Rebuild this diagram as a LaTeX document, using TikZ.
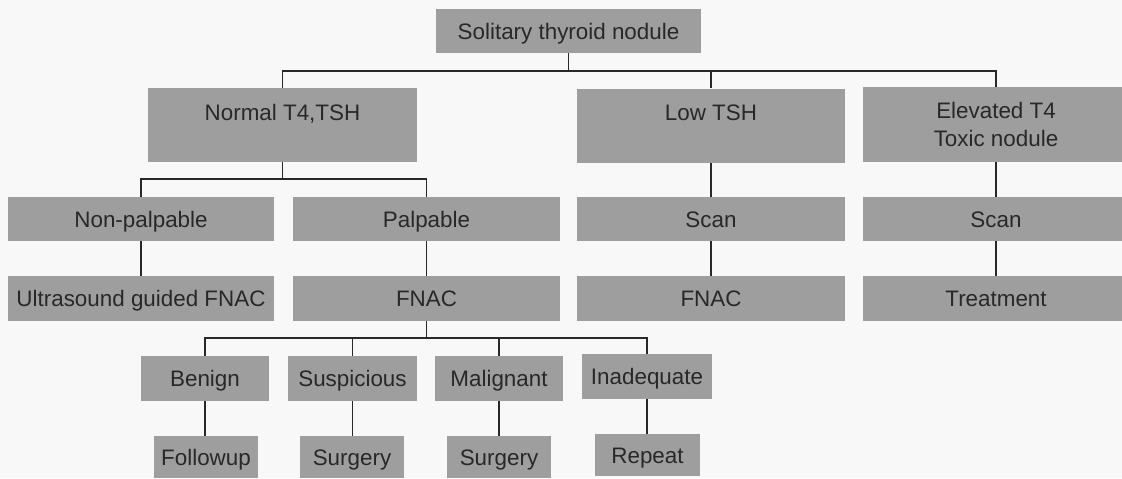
\documentclass[tikz,border=0pt]{standalone}
\usepackage{fontspec}
\setmainfont{Liberation Sans}
\definecolor{boxgray}{RGB}{158,158,158}
\definecolor{inkgray}{RGB}{40,40,40}
\definecolor{paper}{RGB}{248,248,248}
\newcommand{\boxfont}{\fontsize{11.2}{14}\selectfont}
\tikzset{
    box/.style={fill=boxgray, text=inkgray, font=\boxfont, inner sep=0pt,
        text height=8pt, text depth=0pt, minimum height=22pt},
    tallbox/.style={box, align=center, text height=16pt, text depth=21pt},
    link/.style={draw=inkgray, line width=0.85pt},
}
\begin{document}
\begin{tikzpicture}[x=0.5pt, y=-0.5pt]
    \fill[paper] (0,0) rectangle (1122,478);
    \useasboundingbox (0,0) rectangle (1122,478);
    % first level
    \node[box, minimum width=132.5pt] (solitary) at (568.5,31) {Solitary thyroid nodule};
    \node[tallbox, minimum width=134.5pt] (normal) at (282.5,125) {Normal T4,TSH};
    \node[tallbox, minimum width=134pt] (low) at (711,125.5) {Low TSH};
    \node[tallbox, minimum width=133pt, text height=29.5pt, text depth=8pt] (elevated) at (996,124.5) {Elevated T4\\Toxic nodule};
    % second level
    \node[box, minimum width=133pt] (nonpalp) at (141,219) {Non-palpable};
    \node[box, minimum width=133.5pt] (palp) at (426.5,219) {Palpable};
    \node[box, minimum width=134pt] (scanlow) at (711,219) {Scan};
    \node[box, minimum width=133pt] (scanelev) at (996,219) {Scan};
    % third level
    \node[box, minimum width=133pt, minimum height=22.5pt] (ultrasound) at (141,298.5) {Ultrasound guided FNAC};
    \node[box, minimum width=133.5pt, minimum height=22.5pt] (fnac) at (426.5,298.5) {FNAC};
    \node[box, minimum width=134pt, minimum height=22.5pt] (fnaclow) at (711,298.5) {FNAC};
    \node[box, minimum width=133pt, minimum height=22.5pt] (treatment) at (996,298.5) {Treatment};
    % cytology results
    \node[box, minimum width=64pt, minimum height=22.5pt] (benign) at (205,378.5) {Benign};
    \node[box, minimum width=64.5pt, minimum height=22.5pt] (suspicious) at (352.5,378.5) {Suspicious};
    \node[box, minimum width=64pt, minimum height=22.5pt] (malignant) at (499,378.5) {Malignant};
    \node[box, minimum width=65pt, minimum height=22.5pt] (inadequate) at (647,376.5) {Inadequate};
    % management
    \node[box, minimum width=52pt, minimum height=21pt] (followup) at (206,457) {Followup};
    \node[box, minimum width=52pt, minimum height=21pt] (surgeryA) at (352,457) {Surgery};
    \node[box, minimum width=52pt, minimum height=21pt] (surgeryB) at (499,457) {Surgery};
    \node[box, minimum width=52.5pt, minimum height=21pt] (repeat) at (647.5,455) {Repeat};
    % branching lines
    \coordinate (bustop) at (0,71);
    \coordinate (busnormal) at (0,179);
    \coordinate (busfnac) at (0,338);
    \draw[link] (solitary.south) -- (solitary.south |- bustop);
    \draw[link] (normal.north) |- (bustop -| elevated.north) -- (elevated.north);
    \draw[link] (low.north) -- (low.north |- bustop);
    \draw[link] (normal.south) -- (normal.south |- busnormal);
    \draw[link] (nonpalp.north) |- (busnormal -| palp.north) -- (palp.north);
    \draw[link] (fnac.south) -- (fnac.south |- busfnac);
    \draw[link] (benign.north) |- (busfnac -| inadequate.north) -- (inadequate.north);
    \foreach \n in {suspicious, malignant}
        \draw[link] (\n.north) -- (\n.north |- busfnac);
    % straight links
    \foreach \a/\b in {low/scanlow, elevated/scanelev, nonpalp/ultrasound, palp/fnac,
        scanlow/fnaclow, scanelev/treatment, benign/followup, suspicious/surgeryA,
        malignant/surgeryB, inadequate/repeat}
        \draw[link] (\a.south) -- (\a.south |- \b.north);
\end{tikzpicture}
\end{document}
